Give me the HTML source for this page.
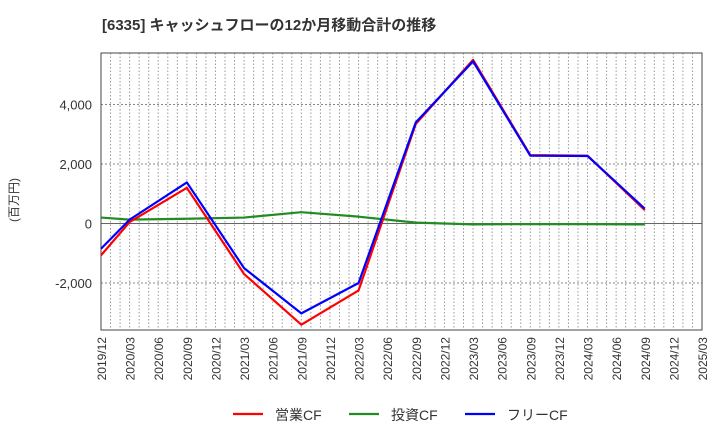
<!DOCTYPE html>
<html><head><meta charset="utf-8"><style>
body{margin:0;background:#fff;}
svg{display:block;font-family:"Liberation Sans","Noto Sans CJK JP",sans-serif;}
</style></head><body>
<svg id="c" width="720" height="440"></svg>
<script>
const categories=["2019/12","2020/06","2020/12","2021/06","2021/12","2022/06","2022/12","2023/06","2023/12","2024/06","2024/12"];
const dataMonths=[0,3,9,15,21,27,33,39,45,51,57];
const opCF=[-1070,50,1200,-1700,-3400,-2250,3350,5500,2300,2280,450];
const invCF=[200,130,160,200,380,230,30,-30,-20,-20,-30];
const freeCF=[-850,130,1380,-1500,-3020,-2000,3400,5450,2280,2270,500];
const yTicks=[-2000,0,2000,4000];
const yTickLabels=["-2,000","0","2,000","4,000"];
const xTickLabels=["2019/12","2020/03","2020/06","2020/09","2020/12","2021/03","2021/06","2021/09","2021/12","2022/03","2022/06","2022/09","2022/12","2023/03","2023/06","2023/09","2023/12","2024/03","2024/06","2024/09","2024/12","2025/03"];
const L=101,R=702,T=53,B=330,NM=63;
const x=m=>L+(R-L)*m/NM;
const y=v=>223.5-v*59.5/2000;
const svg=document.getElementById('c');
const NS='http://www.w3.org/2000/svg';
function mk(t,a,p){const e=document.createElementNS(NS,t);for(const k in a)e.setAttribute(k,a[k]);(p||svg).appendChild(e);return e;}
let e=mk('text',{x:102,y:30,'font-size':15,'font-weight':'bold',fill:'#333'});e.textContent='[6335]  キャッシュフローの12か月移動合計の推移';


for(let m=1;m<NM;m++){e=mk('line',{x1:x(m),x2:x(m),y1:T,y2:B,stroke:'#999','stroke-dasharray':'1.5,2','stroke-width':1});

}
yTicks.forEach((v,i)=>{
 e=mk('line',{x1:L,x2:R,y1:y(v),y2:y(v),stroke:v===0?'#666':'#888','stroke-dasharray':v===0?'':'2,2','stroke-width':1});
 
 
 e=mk('text',{x:92,y:y(v)+5,'text-anchor':'end','font-size':13,fill:'#333'});e.textContent=yTickLabels[i];
 
 
});
e=mk('rect',{x:L,y:T,width:R-L,height:B-T,fill:'none',stroke:'#444','stroke-width':1});


e=mk('text',{x:0,y:0,'font-size':12,fill:'#333','text-anchor':'middle',transform:'translate(18,200) rotate(-90)'});e.textContent='(百万円)';


xTickLabels.forEach((s,i)=>{
 const px=x(i*3)+5;
 e=mk('text',{x:0,y:0,'font-size':12,fill:'#333','text-anchor':'end',transform:`translate(${px},337) rotate(-90)`});e.textContent=s;
 
 
});
function series(vals,col,name){
 const pts=vals.map((v,i)=>x(dataMonths[i])+','+y(v)).join(' ');
 e=mk('polyline',{points:pts,fill:'none',stroke:col,'stroke-width':2.2,'stroke-linejoin':'round'});
 
 
}
series(invCF,'#228b22','investing-cf-line');
series(opCF,'#ff0000','operating-cf-line');
series(freeCF,'#0000ff','free-cf-line');
const leg=[['営業CF','#ff0000',233],['投資CF','#228b22',349],['フリーCF','#0000ff',465]];
leg.forEach(([t,c,lx])=>{
 const g=mk('g',{});
 
 
 mk('line',{x1:lx,x2:lx+30,y1:414,y2:414,stroke:c,'stroke-width':2.2},g);
 const tx=mk('text',{x:lx+42,y:420,'font-size':14,fill:'#333'},g);tx.textContent=t;
});
</script>
</body></html>
